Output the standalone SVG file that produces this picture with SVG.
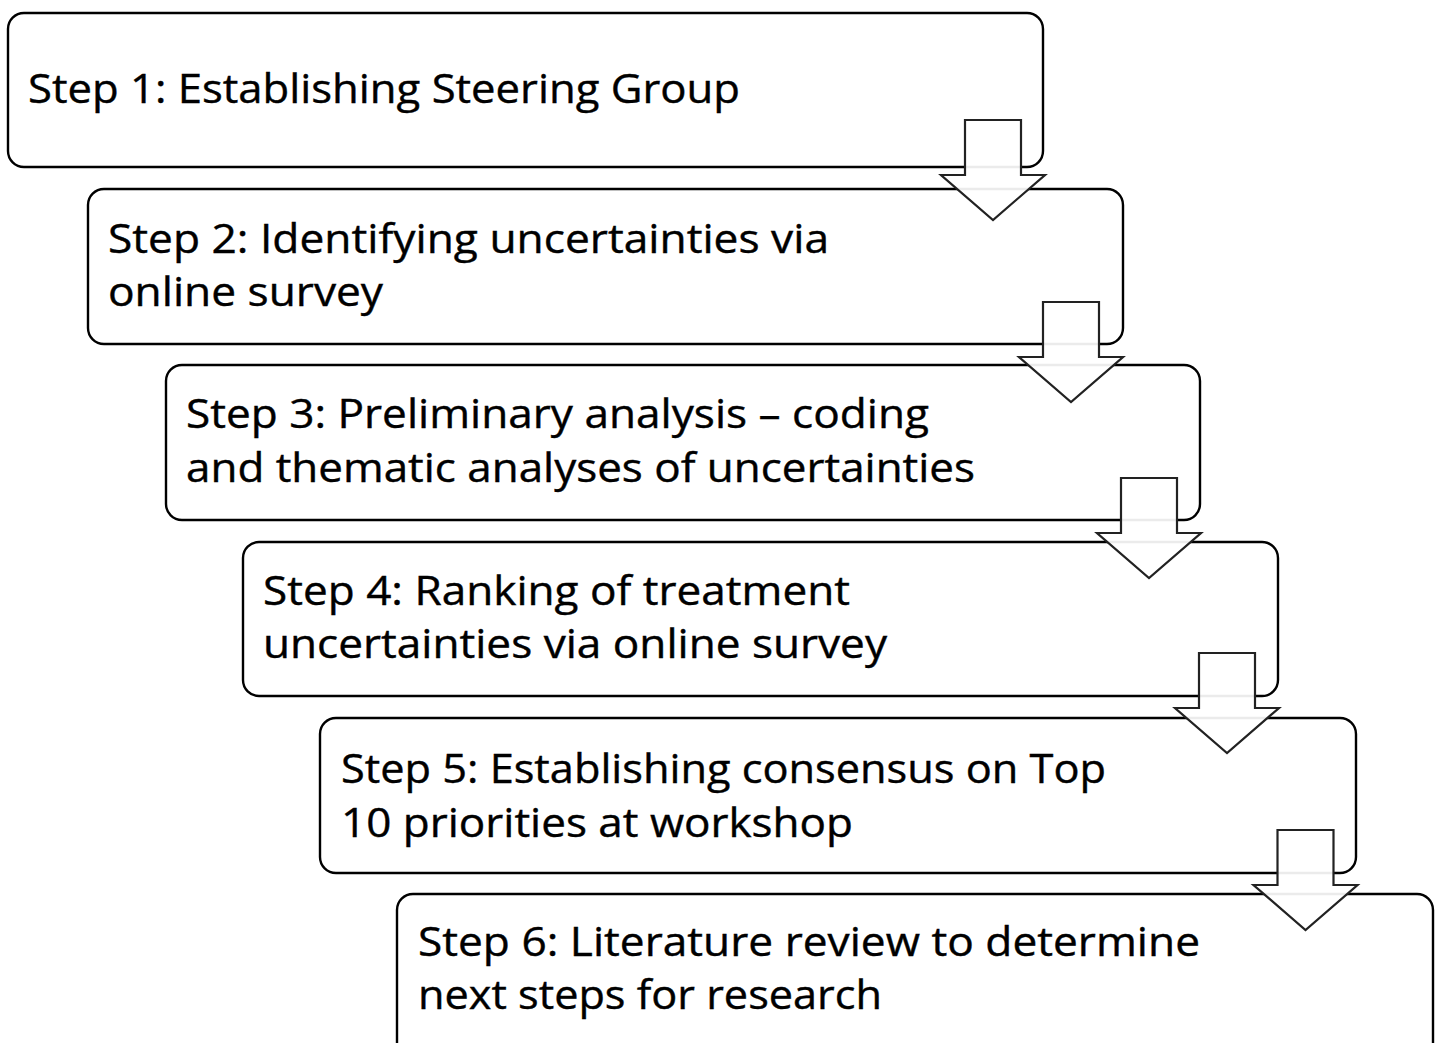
<svg xmlns="http://www.w3.org/2000/svg" width="1442" height="1043" viewBox="0 0 1442 1043">
<style>
.box{fill:#fff;stroke:#000;stroke-width:2.4}
.arr{fill:#fff;fill-opacity:0.92;stroke:#222;stroke-width:2.2;stroke-linejoin:miter}
.t{font-family:"Open Sans","Noto Sans","DejaVu Sans",sans-serif;font-size:40px;fill:#000;stroke:#000;stroke-width:0.4}
</style>
<defs>
<path id="arrow" class="arr" d="M-28,0 H28 V55 H52 L0,100 L-52,55 H-28 Z"/>
</defs>
<rect width="1442" height="1043" fill="#fff"/>
<g id="step1"><rect class="box" x="8" y="13" width="1035" height="154" rx="16"/>
<text class="t" x="28" y="103" textLength="712" lengthAdjust="spacingAndGlyphs">Step 1: Establishing Steering Group</text></g>
<g id="step2"><rect class="box" x="88" y="189" width="1035" height="155" rx="16"/>
<text class="t" x="108" y="253" textLength="721" lengthAdjust="spacingAndGlyphs">Step 2: Identifying uncertainties via</text>
<text class="t" x="108" y="306" textLength="275" lengthAdjust="spacingAndGlyphs">online survey</text></g>
<g id="step3"><rect class="box" x="166" y="365" width="1034" height="155" rx="16"/>
<text class="t" x="186" y="428" textLength="743" lengthAdjust="spacingAndGlyphs">Step 3: Preliminary analysis – coding</text>
<text class="t" x="186" y="482" textLength="789" lengthAdjust="spacingAndGlyphs">and thematic analyses of uncertainties</text></g>
<g id="step4"><rect class="box" x="243" y="542" width="1035" height="154" rx="16"/>
<text class="t" x="263" y="605" textLength="587" lengthAdjust="spacingAndGlyphs">Step 4: Ranking of treatment</text>
<text class="t" x="263" y="658" textLength="624" lengthAdjust="spacingAndGlyphs">uncertainties via online survey</text></g>
<g id="step5"><rect class="box" x="320" y="718" width="1036" height="155" rx="16"/>
<text class="t" x="341" y="783" textLength="765" lengthAdjust="spacingAndGlyphs">Step 5: Establishing consensus on Top</text>
<text class="t" x="341" y="837" textLength="512" lengthAdjust="spacingAndGlyphs">10 priorities at workshop</text></g>
<g id="step6"><rect class="box" x="397" y="894" width="1036" height="170" rx="16"/>
<text class="t" x="418" y="956" textLength="782" lengthAdjust="spacingAndGlyphs">Step 6: Literature review to determine</text>
<text class="t" x="418" y="1009" textLength="464" lengthAdjust="spacingAndGlyphs">next steps for research</text></g>
<g id="connectors">
<use href="#arrow" x="993" y="120"/>
<use href="#arrow" x="1071" y="302"/>
<use href="#arrow" x="1149" y="478"/>
<use href="#arrow" x="1227" y="653"/>
<use href="#arrow" x="1305.5" y="830"/>
</g>
</svg>
